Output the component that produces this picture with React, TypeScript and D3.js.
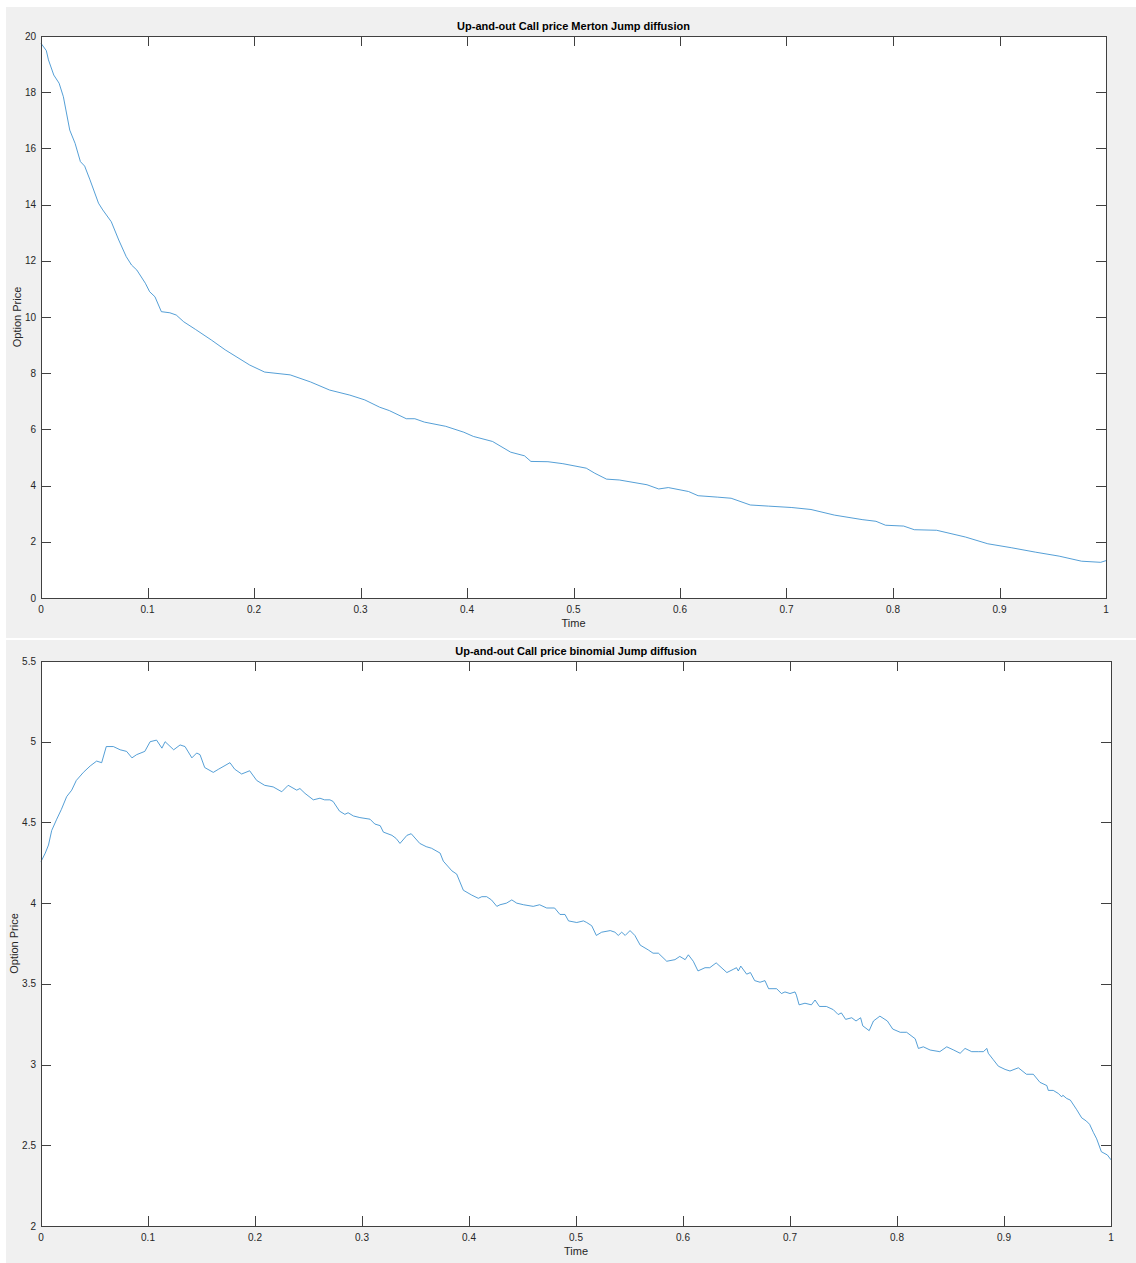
import React from 'react';
import * as d3 from 'd3';

// Up-and-out call, Merton jump diffusion
const mertonTime = [
  0, 0.005, 0.007, 0.012, 0.017, 0.021, 0.027, 0.032, 0.037, 0.041, 0.046, 0.054, 0.058, 0.066,
  0.073, 0.08, 0.085, 0.09, 0.098, 0.102, 0.107, 0.113, 0.121, 0.127, 0.134, 0.145, 0.16, 0.173,
  0.196, 0.21, 0.234, 0.253, 0.271, 0.29, 0.304, 0.318, 0.327, 0.343, 0.351, 0.36, 0.38, 0.397,
  0.406, 0.424, 0.441, 0.454, 0.46, 0.476, 0.49, 0.512, 0.52, 0.531, 0.543, 0.569, 0.58, 0.589,
  0.608, 0.617, 0.635, 0.648, 0.666, 0.683, 0.705, 0.723, 0.745, 0.771, 0.784, 0.793, 0.81, 0.82,
  0.841, 0.868, 0.889, 0.911, 0.934, 0.956, 0.977, 0.995, 1.0,
];
const mertonPrice = [
  19.74, 19.48, 19.15, 18.61, 18.32, 17.84, 16.65, 16.18, 15.53, 15.37, 14.88, 14.05, 13.81, 13.39,
  12.74, 12.15, 11.85, 11.67, 11.2, 10.9, 10.72, 10.19, 10.15, 10.07, 9.83, 9.56, 9.18, 8.83,
  8.29, 8.04, 7.94, 7.69, 7.4, 7.22, 7.05, 6.79, 6.67, 6.38, 6.38, 6.26, 6.11, 5.9,
  5.75, 5.57, 5.19, 5.06, 4.86, 4.85, 4.78, 4.62, 4.44, 4.23, 4.2, 4.03, 3.88, 3.93,
  3.79, 3.64, 3.59, 3.55, 3.31, 3.27, 3.22, 3.15, 2.95, 2.79, 2.73, 2.59, 2.56, 2.43,
  2.41, 2.17, 1.93, 1.79, 1.63, 1.49, 1.31, 1.27, 1.33,
];

// Up-and-out call, binomial jump diffusion
const binomialTime = [
  0, 0.004, 0.007, 0.01, 0.0147, 0.019, 0.024, 0.0287, 0.033, 0.0396, 0.046, 0.052, 0.0567, 0.061,
  0.0676, 0.074, 0.08, 0.085, 0.0894, 0.097, 0.102, 0.108, 0.113, 0.116, 0.124, 0.13, 0.1346, 0.141,
  0.1455, 0.1486, 0.153, 0.161, 0.166, 0.1766, 0.181, 0.1875, 0.195, 0.2016, 0.209, 0.217, 0.225,
  0.231, 0.239, 0.242, 0.2467, 0.2545, 0.2607, 0.265, 0.27,
  0.273, 0.279, 0.284, 0.287, 0.292, 0.298, 0.3075, 0.312, 0.317, 0.32, 0.328, 0.332, 0.3355, 0.342,
  0.346, 0.354, 0.36, 0.365, 0.373, 0.376, 0.384, 0.3885, 0.3947, 0.4025, 0.4087, 0.412, 0.4165,
  0.421, 0.426, 0.429, 0.435, 0.44, 0.4446, 0.451, 0.46, 0.466, 0.4726, 0.48, 0.485, 0.4897, 0.493,
  0.5007, 0.507, 0.51, 0.5147, 0.519, 0.524, 0.532, 0.5364, 0.5395, 0.5427, 0.546, 0.5505, 0.555,
  0.56, 0.5676, 0.572, 0.577, 0.5848, 0.5925, 0.597, 0.602, 0.605, 0.6096, 0.614, 0.6206,
  0.625, 0.631, 0.641, 0.647, 0.65, 0.6517, 0.654, 0.6595, 0.663, 0.667, 0.672, 0.6766, 0.68,
  0.6875, 0.692, 0.6953, 0.7, 0.7047, 0.706, 0.7085, 0.714, 0.72, 0.7234, 0.7275, 0.734, 0.7405,
  0.745, 0.748, 0.752, 0.7577, 0.7617, 0.766, 0.768, 0.774, 0.778, 0.784, 0.791, 0.796, 0.803,
  0.809, 0.817, 0.82, 0.8246, 0.831, 0.84, 0.8465, 0.853, 0.859, 0.8636, 0.8698, 0.876, 0.8807,
  0.884, 0.8853, 0.89, 0.8947, 0.901, 0.9056, 0.9134, 0.921, 0.9274, 0.9336, 0.94, 0.9414, 0.946,
  0.951, 0.9539, 0.955, 0.9586, 0.962, 0.968, 0.9726, 0.977, 0.98, 0.9835, 0.9866, 0.991, 0.9966, 1.0,
];
const binomialPrice = [
  4.257, 4.31, 4.36, 4.45, 4.52, 4.58, 4.66, 4.7, 4.76, 4.81, 4.85, 4.88, 4.87, 4.97,
  4.97, 4.95, 4.94, 4.9, 4.92, 4.94, 5.0, 5.01, 4.96, 5.0, 4.95, 4.98, 4.97, 4.9,
  4.93, 4.92, 4.84, 4.81, 4.83, 4.87, 4.83, 4.8, 4.82, 4.76, 4.73, 4.72, 4.69,
  4.73, 4.7, 4.71, 4.68, 4.64, 4.65, 4.64, 4.64,
  4.63, 4.57, 4.55, 4.56, 4.54, 4.53, 4.52, 4.49, 4.48, 4.44, 4.42, 4.4, 4.37, 4.42,
  4.43, 4.37, 4.35, 4.34, 4.31, 4.26, 4.2, 4.18, 4.08, 4.05, 4.03, 4.04, 4.04,
  4.02, 3.98, 3.99, 4.0, 4.02, 4.0, 3.99, 3.98, 3.99, 3.97, 3.97, 3.93, 3.93, 3.89,
  3.88, 3.89, 3.88, 3.86, 3.8, 3.82, 3.83, 3.82, 3.8, 3.82, 3.8, 3.83, 3.8,
  3.74, 3.71, 3.69, 3.69, 3.64, 3.65, 3.67, 3.65, 3.68, 3.64, 3.58, 3.6,
  3.6, 3.63, 3.57, 3.59, 3.6, 3.58, 3.61, 3.56, 3.57, 3.52, 3.51, 3.52, 3.47,
  3.47, 3.44, 3.45, 3.44, 3.45, 3.43, 3.37, 3.38, 3.37, 3.4, 3.36, 3.36, 3.34,
  3.31, 3.32, 3.28, 3.29, 3.27, 3.29, 3.24, 3.21, 3.27, 3.3, 3.27, 3.22, 3.2,
  3.2, 3.16, 3.1, 3.11, 3.09, 3.08, 3.11, 3.09, 3.07, 3.1, 3.08, 3.08, 3.08,
  3.1, 3.07, 3.03, 2.99, 2.97, 2.96, 2.98, 2.94, 2.94, 2.89, 2.87, 2.84, 2.84,
  2.82, 2.8, 2.81, 2.79, 2.78, 2.72, 2.67, 2.65, 2.63, 2.58, 2.54, 2.46, 2.44, 2.41,
];

const timeTicks = [0, 0.1, 0.2, 0.3, 0.4, 0.5, 0.6, 0.7, 0.8, 0.9, 1];
const mertonTicks = [0, 2, 4, 6, 8, 10, 12, 14, 16, 18, 20];
const binomialTicks = [2, 2.5, 3, 3.5, 4, 4.5, 5, 5.5];

const FONT = '"Liberation Sans", Arial, Helvetica, sans-serif';
const AXIS = '#404040';
const TEXT = '#262626';

function Panel({ top, bottomEdge, box, title, yDomain, yTicks, time, price, ylabelX }) {
  const x = d3.scaleLinear().domain([0, 1]).range([box.left, box.right]);
  const y = d3.scaleLinear().domain(yDomain).range([box.bottom, box.top]);
  const line = d3.line<number>()
    .x((_, i) => x(time[i]))
    .y((d) => y(d));
  const tickLen = 10;
  const px = (v: number) => Math.round(v) + 0.5;

  return (
    <g>
      <rect x={6} y={top} width={1130} height={bottomEdge - top} fill="#f0f0f0" />
      <rect x={box.left} y={box.top} width={box.right - box.left} height={box.bottom - box.top} fill="#fff" />
      <path d={line(price) || ''} fill="none" stroke="#2a86cc" strokeWidth={0.8} />
      {/* box */}
      <rect
        x={px(box.left)} y={px(box.top)}
        width={Math.round(box.right) - Math.round(box.left)}
        height={Math.round(box.bottom) - Math.round(box.top)}
        fill="none" stroke={AXIS} strokeWidth={1} shapeRendering="crispEdges"
      />
      {timeTicks.map((t) => (
        <g key={'x' + t}>
          <line x1={px(x(t))} x2={px(x(t))} y1={box.bottom} y2={box.bottom - tickLen} stroke={AXIS} shapeRendering="crispEdges" />
          <line x1={px(x(t))} x2={px(x(t))} y1={box.top} y2={box.top + tickLen} stroke={AXIS} shapeRendering="crispEdges" />
          <text x={x(t)} y={box.bottom + 15} textAnchor="middle" fontFamily={FONT} fontSize={10} fill={TEXT}>
            {String(t)}
          </text>
        </g>
      ))}
      {yTicks.map((v) => (
        <g key={'y' + v}>
          <line x1={box.left} x2={box.left + tickLen} y1={px(y(v))} y2={px(y(v))} stroke={AXIS} shapeRendering="crispEdges" />
          <line x1={box.right} x2={box.right - tickLen} y1={px(y(v))} y2={px(y(v))} stroke={AXIS} shapeRendering="crispEdges" />
          <text x={box.left - 5} y={y(v) + 3.5} textAnchor="end" fontFamily={FONT} fontSize={10} fill={TEXT}>
            {String(v)}
          </text>
        </g>
      ))}
      <text
        x={(box.left + box.right) / 2} y={box.top - 6}
        textAnchor="middle" fontFamily={FONT} fontSize={11} fontWeight="bold" fill="#000"
      >
        {title}
      </text>
      <text
        x={(box.left + box.right) / 2} y={box.bottom + 29}
        textAnchor="middle" fontFamily={FONT} fontSize={11} fill={TEXT}
      >
        Time
      </text>
      <text
        transform={`translate(${ylabelX},${(box.top + box.bottom) / 2}) rotate(-90)`}
        textAnchor="middle" fontFamily={FONT} fontSize={11} fill={TEXT}
      >
        Option Price
      </text>
    </g>
  );
}

export default function App() {
  return (
    <svg
      width={1136}
      height={1263}
      style={{ position: 'absolute', left: 0, top: 0, background: '#fff' }}
    >
      <Panel
        top={7}
        bottomEdge={638}
        box={{ left: 41, right: 1106, top: 36, bottom: 598 }}
        title="Up-and-out Call price Merton Jump diffusion"
        yDomain={[0, 20]}
        yTicks={mertonTicks}
        time={mertonTime}
        price={mertonPrice}
        ylabelX={21}
      />
      <Panel
        top={640}
        bottomEdge={1263}
        box={{ left: 41, right: 1111, top: 661, bottom: 1226 }}
        title="Up-and-out Call price binomial Jump diffusion"
        yDomain={[2, 5.5]}
        yTicks={binomialTicks}
        time={binomialTime}
        price={binomialPrice}
        ylabelX={18}
      />
    </svg>
  );
}
